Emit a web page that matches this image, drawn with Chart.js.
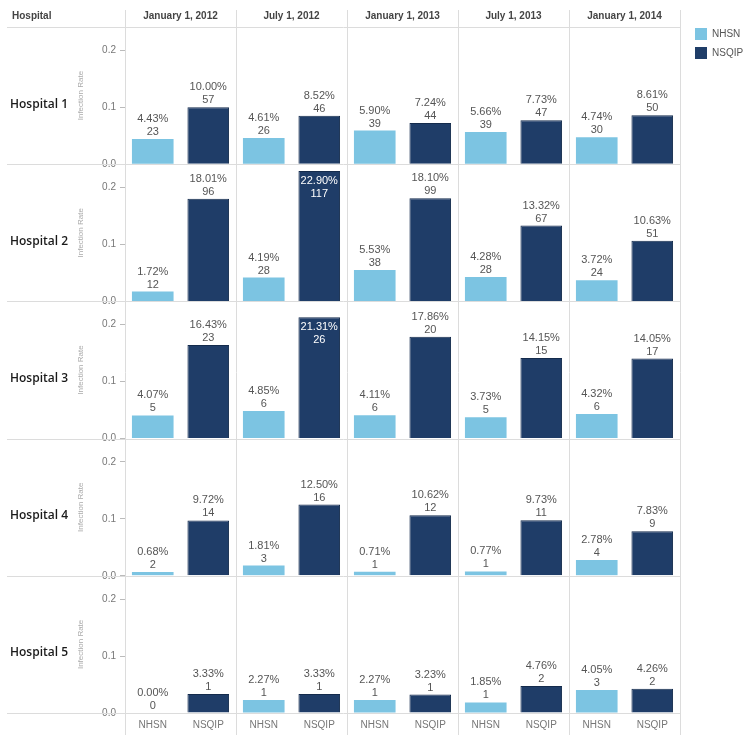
<!DOCTYPE html>
<html>
<head>
  <title>Infection Rate by Hospital</title>
  <script src="https://cdn.jsdelivr.net/npm/chart.js"></script>
  <style>
    body { margin: 0; background: #fff; }
    #wrap { position: relative; width: 750px; height: 741px; }
  </style>
</head>
<body>
  <div id="wrap"><canvas id="rate-chart" width="750" height="741"></canvas></div>

  <script>
    let hospitals = ["Hospital 1", "Hospital 2", "Hospital 3", "Hospital 4", "Hospital 5"];
    let periods = ["January 1, 2012", "July 1, 2012", "January 1, 2013", "July 1, 2013", "January 1, 2014"];
    let sources = ["NHSN", "NSQIP"];
    let yTicks = [0, 0.1, 0.2];

    // infection rate, one row per hospital, one column per period
    let nhsnRate = [
      [0.0443, 0.0461, 0.0590, 0.0566, 0.0474],
      [0.0172, 0.0419, 0.0553, 0.0428, 0.0372],
      [0.0407, 0.0485, 0.0411, 0.0373, 0.0432],
      [0.0068, 0.0181, 0.0071, 0.0077, 0.0278],
      [0.0000, 0.0227, 0.0227, 0.0185, 0.0405]
    ];
    let nsqipRate = [
      [0.1000, 0.0852, 0.0724, 0.0773, 0.0861],
      [0.1801, 0.2290, 0.1810, 0.1332, 0.1063],
      [0.1643, 0.2131, 0.1786, 0.1415, 0.1405],
      [0.0972, 0.1250, 0.1062, 0.0973, 0.0783],
      [0.0333, 0.0333, 0.0323, 0.0476, 0.0426]
    ];
    // number of infections
    let nhsnCount = [
      [23, 26, 39, 39, 30],
      [12, 28, 38, 28, 24],
      [5, 6, 6, 5, 6],
      [2, 3, 1, 1, 4],
      [0, 1, 1, 1, 3]
    ];
    let nsqipCount = [
      [57, 46, 44, 47, 50],
      [96, 117, 99, 67, 51],
      [23, 26, 20, 15, 17],
      [14, 16, 12, 11, 9],
      [1, 1, 1, 2, 2]
    ];

    let lightBlue = "#7cc4e2";
    let darkBlue = "#1f3d68";
    let textFont = "'Liberation Sans', Arial, sans-serif";

    // x categories: NHSN, NSQIP for every period
    let xLabels = [];
    periods.forEach(() => sources.forEach(s => xLabels.push(s)));

    function rowValues(r) {
      let out = [];
      for (let c = 0; c < periods.length; c++) {
        out.push(nhsnRate[r][c], nsqipRate[r][c]);
      }
      return out;
    }

    function rowCounts(r) {
      let out = [];
      for (let c = 0; c < periods.length; c++) {
        out.push(nhsnCount[r][c], nsqipCount[r][c]);
      }
      return out;
    }

    let datasets = hospitals.map((h, r) => ({
      label: h,
      data: rowValues(r),
      counts: rowCounts(r),
      yAxisID: "y" + r,
      grouped: false,
      barPercentage: 0.75,
      categoryPercentage: 1,
      backgroundColor: xLabels.map((s, i) => i % 2 === 0 ? lightBlue : darkBlue),
      borderColor: xLabels.map((s, i) => i % 2 === 0 ? lightBlue : "#142b4c"),
      borderWidth: xLabels.map((s, i) => i % 2 === 0 ? 0 : 1)
    }));

    let scales = {
      x: {
        type: "category",
        position: "bottom",
        offset: true,
        grid: { display: false, drawTicks: false },
        border: { display: false },
        ticks: { color: "#777", font: { size: 10, family: textFont }, padding: 6, maxRotation: 0, autoSkip: false },
        afterFit: s => { s.height = 28; }
      },
      xTop: {
        type: "category",
        position: "top",
        labels: periods,
        offset: true,
        grid: { display: false, drawTicks: false },
        border: { display: false },
        ticks: { color: "#444", font: { size: 10, weight: "bold", family: textFont }, padding: 5, maxRotation: 0, autoSkip: false },
        afterFit: s => { s.height = 27; }
      }
    };

    hospitals.forEach((h, r) => {
      scales["y" + r] = {
        type: "linear",
        position: "left",
        stack: "hospital",
        stackWeight: 1,
        weight: hospitals.length - r,
        min: 0,
        max: 0.2408,
        afterBuildTicks: s => { s.ticks = yTicks.map(v => ({ value: v })); },
        ticks: {
          color: "#777",
          font: { size: 10, family: textFont },
          padding: 4,
          callback: v => v.toFixed(1)
        },
        grid: { drawOnChartArea: false, drawTicks: true, tickLength: 5, color: "#bbb" },
        border: { display: false },
        title: {
          display: true,
          text: "Infection Rate",
          color: "#aaa",
          font: { size: 8, family: textFont },
          padding: { top: 6, bottom: 0 }
        },
        afterFit: s => { s.width = 55; }
      };
    });

    let trellis = {
      id: "trellis",
      beforeDatasetsDraw(chart) {
        let ctx = chart.ctx;
        let x = chart.scales.x;
        let area = chart.chartArea;
        let half = (x.getPixelForValue(1) - x.getPixelForValue(0)) / 2;
        ctx.save();
        ctx.strokeStyle = "#dcdcdc";
        ctx.lineWidth = 1;
        // column dividers
        for (let k = 0; k <= periods.length; k++) {
          let px = k < periods.length ? x.getPixelForValue(k * 2) - half : x.getPixelForValue(xLabels.length - 1) + half;
          px = Math.round(px) + 0.5;
          ctx.beginPath();
          ctx.moveTo(px, 10);
          ctx.lineTo(px, 735);
          ctx.stroke();
        }
        // header line and row baselines
        let ys = [area.top];
        hospitals.forEach((h, r) => ys.push(chart.scales["y" + r].getPixelForValue(0)));
        ys.forEach(y => {
          let py = Math.round(y) + 0.5;
          ctx.beginPath();
          ctx.moveTo(7, py);
          ctx.lineTo(area.right, py);
          ctx.stroke();
        });
        ctx.restore();
      },
      afterDatasetsDraw(chart) {
        let ctx = chart.ctx;
        ctx.save();

        // header and row labels
        ctx.fillStyle = "#444";
        ctx.font = "bold 10px " + textFont;
        ctx.textAlign = "left";
        ctx.textBaseline = "middle";
        ctx.fillText("Hospital", 12, 16);

        ctx.fillStyle = "#1a1a1a";
        ctx.font = "600 12px 'Open Sans', sans-serif";
        hospitals.forEach((h, r) => {
          let base = chart.scales["y" + r].getPixelForValue(0);
          ctx.fillText(h, 10, base - 60);
        });

        // legend
        let legendColors = [lightBlue, darkBlue];
        sources.forEach((s, i) => {
          let top = 28 + i * 19;
          ctx.fillStyle = legendColors[i];
          ctx.fillRect(695, top, 12, 12);
          ctx.fillStyle = "#555";
          ctx.font = "10px " + textFont;
          ctx.fillText(s, 712, top + 6);
        });

        // value labels
        ctx.textAlign = "center";
        ctx.font = "11px " + textFont;
        chart.data.datasets.forEach((ds, r) => {
          let yScale = chart.scales["y" + r];
          chart.getDatasetMeta(r).data.forEach((bar, i) => {
            let pct = (ds.data[i] * 100).toFixed(2) + "%";
            let cnt = String(ds.counts[i]);
            if (bar.y - 28 < yScale.top) {
              ctx.fillStyle = "#fff";
              ctx.fillText(pct, bar.x, bar.y + 10);
              ctx.fillText(cnt, bar.x, bar.y + 23);
            } else {
              ctx.fillStyle = "#555";
              ctx.fillText(pct, bar.x, bar.y - 20);
              ctx.fillText(cnt, bar.x, bar.y - 7);
            }
          });
        });
        ctx.restore();
      }
    };

    let rateChart = new Chart(document.getElementById("rate-chart"), {
      type: "bar",
      data: { labels: xLabels, datasets: datasets },
      options: {
        responsive: false,
        animation: false,
        layout: { padding: { left: 70, right: 70, top: 0, bottom: 0 } },
        plugins: {
          legend: { display: false },
          tooltip: { enabled: false }
        },
        scales: scales
      },
      plugins: [trellis]
    });
  </script>
</body>
</html>
